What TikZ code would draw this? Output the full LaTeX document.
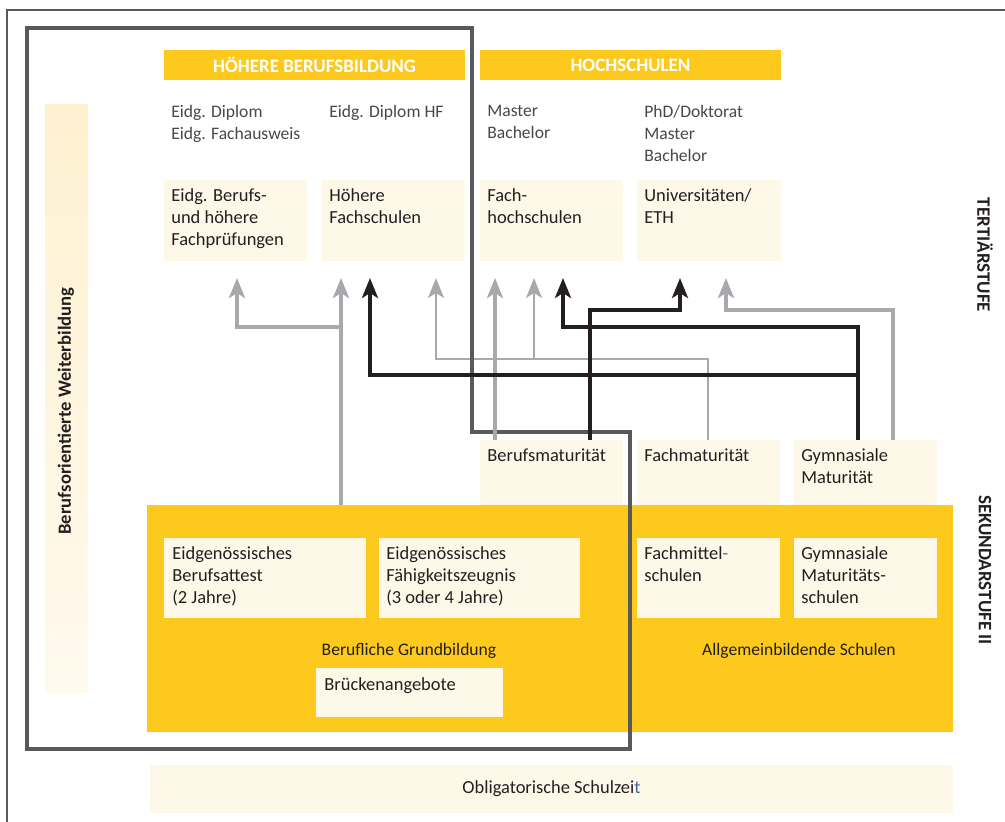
\documentclass[tikz,border=0pt]{standalone}
\usepackage{fontspec}
\setmainfont{Carlito}
\usetikzlibrary{arrows.meta}

\definecolor{sbyellow}{RGB}{253,201,28}
\definecolor{sbcream}{RGB}{254,248,232}
\definecolor{sbbartop}{RGB}{254,241,208}
\definecolor{sbbarbot}{RGB}{255,249,238}
\definecolor{sbgrey}{RGB}{167,169,172}
\definecolor{sbblack}{RGB}{35,31,32}
\definecolor{sbframe}{RGB}{88,89,91}
\definecolor{sbtext}{RGB}{35,31,32}
\definecolor{sblabel}{RGB}{72,72,74}
\definecolor{sbblue}{RGB}{70,100,180}

\tikzset{
  body/.style={anchor=north west, inner sep=0pt, align=left, text=sbtext,
    font=\fontsize{10.5}{12.6}\selectfont},
  degree/.style={body, text=sblabel, font=\fontsize{10}{12.6}\selectfont},
  head/.style={inner sep=0pt, text=white, font=\fontsize{10.8}{12}\selectfont\bfseries},
  stage/.style={inner sep=0pt, text=sbtext, font=\fontsize{10.8}{12}\selectfont\bfseries},
  caption/.style={inner sep=0pt, text=sbtext, font=\fontsize{10}{12}\selectfont},
  greyline/.style={draw=sbgrey, line width=2.3pt, -{Stealth[length=4mm, width=3.2mm, inset=1mm]}},
  greythin/.style={greyline, line width=1.1pt},
  blackline/.style={draw=sbblack, line width=2.3pt, -{Stealth[length=4mm, width=3.2mm, inset=1mm]}},
}

\def\sbbase{
    % \draw[help lines] (0, 0) grid[step=50] (1005, 822);
    \path[draw=sbframe, line width=1.1pt] (7, 822) -- (7, 10) -- (1005, 10);
    \shade[top color=sbbartop, bottom color=sbbarbot] (45, 104) rectangle (88, 692);
    \path[fill=sbyellow] (164, 50) rectangle (465, 80) node [midway] (hbb) {};
    \path[fill=sbyellow] (480, 50) rectangle (781, 80) node [midway] (hs) {};
    \path[fill=sbcream] (164, 180) coordinate (fp) rectangle (307, 261);
    \path[fill=sbcream] (322, 180) coordinate (hf) rectangle (465, 261);
    \path[fill=sbcream] (480, 180) coordinate (fh) rectangle (623, 261);
    \path[fill=sbcream] (637, 180) coordinate (uni) rectangle (781, 261);
    \path[fill=sbcream] (480, 440) coordinate (bm) rectangle (623, 505);
    \path[fill=sbcream] (637, 440) coordinate (fm) rectangle (780, 505);
    \path[fill=sbcream] (794, 440) coordinate (gm) rectangle (937, 505);
    \path[fill=sbyellow] (147, 505) rectangle (953, 732);
    \path[fill=sbcream] (164, 538) coordinate (eba) rectangle (366, 618);
    \path[fill=sbcream] (379, 538) coordinate (efz) rectangle (580, 618);
    \path[fill=sbcream] (637, 538) coordinate (fms) rectangle (780, 618);
    \path[fill=sbcream] (794, 538) coordinate (gms) rectangle (937, 618);
    \path[fill=sbcream] (316, 668) coordinate (bra) rectangle (503, 717);
    \path[fill=sbcream] (150, 765) rectangle (953, 813) node [midway] (obl) {};
  }

\begin{document}
\begin{tikzpicture}[x=0.02cm, y=-0.02cm]
    \useasboundingbox (0, 0) rectangle (1005, 822);
    \sbbase
    \node[head] (hbb-t) at (hbb) {HÖHERE BERUFSBILDUNG};
    \node[head] (hs-t) at (hs) {HOCHSCHULEN};
    \node[degree] (dp-fp) at (171, 105) {Eidg. Diplom\\Eidg. Fachausweis};
    \node[degree] (dp-hf) at (329, 105) {Eidg. Diplom HF};
    \node[degree] (dp-fh) at (487, 105) {Master\\Bachelor};
    \node[degree] (dp-uni) at (644, 105) {PhD/Doktorat\\Master\\Bachelor};
    \node[body] (fp-t) at ([shift={(7, 8)}]fp) {Eidg. Berufs-\\und höhere\\Fachprüfungen};
    \node[body] (hf-t) at ([shift={(7, 8)}]hf) {Höhere\\Fachschulen};
    \node[body] (fh-t) at ([shift={(7, 8)}]fh) {Fach-\\hochschulen};
    \node[body] (uni-t) at ([shift={(7, 8)}]uni) {Universitäten/\\ETH};
    \node[body] (bm-t) at ([shift={(7, 8)}]bm) {Berufsmaturität};
    \node[body] (fm-t) at ([shift={(7, 8)}]fm) {Fachmaturität};
    \node[body] (gm-t) at ([shift={(7, 8)}]gm) {Gymnasiale\\Maturität};
    \node[body] (eba-t) at ([shift={(8, 8)}]eba) {Eidgenössisches\\Berufsattest\\(2 Jahre)};
    \node[body] (efz-t) at ([shift={(7, 8)}]efz) {Eidgenössisches\\Fähigkeitszeugnis\\(3 oder 4 Jahre)};
    \node[body] (fms-t) at ([shift={(7, 8)}]fms) {Fachmittel\textcolor{sbblue}{-}\\schulen};
    \node[body] (gms-t) at ([shift={(7, 8)}]gms) {Gymnasiale\\Maturitäts-\\schulen};
    \node[body] (bra-t) at ([shift={(8, 9)}]bra) {Brückenangebote};
    \node[caption] (gb-t) at (409, 651) {Berufliche Grundbildung};
    \node[caption] (ab-t) at (799, 651) {Allgemeinbildende Schulen};
    \node[caption, font=\fontsize{10.5}{12}\selectfont] (obl-t) at (obl) {Obligatorische Schulzei\textcolor{sbblue}{t}};
    \node[stage, font=\fontsize{10.6}{12}\selectfont\bfseries, rotate=90] (wb-t) at (66, 411) {Berufsorientierte Weiterbildung};
    \node[stage, rotate=-90] (ter-t) at (985, 255) {TERTIÄRSTUFE};
    \node[stage, rotate=-90] (sek-t) at (985, 570) {SEKUNDARSTUFE II};
    % arrow ends below the tertiary boxes
    \coordinate (in-fp) at (237, 278);
    \coordinate (in-hf1) at (341, 278);
    \coordinate (in-hf2) at (370, 278);
    \coordinate (in-hf3) at (436, 278);
    \coordinate (in-fh1) at (495, 278);
    \coordinate (in-fh2) at (534, 278);
    \coordinate (in-fh3) at (563, 278);
    \coordinate (in-uni1) at (680, 278);
    \coordinate (in-uni2) at (726, 278);
    % starts on the secondary boxes
    \coordinate (out-gb) at (341, 505);
    \coordinate (out-bm1) at (495, 440);
    \coordinate (out-bm2) at (590, 440);
    \coordinate (out-fm) at (708, 440);
    \coordinate (out-gm1) at (858, 440);
    \coordinate (out-gm2) at (893, 440);
    \coordinate (gb-split) at (341, 327);
    \coordinate (fm-split) at (534, 359);
    \coordinate (gm-split) at (858, 375);
    % thin line from the Fachmaturitaet
    \path[greythin] (out-fm) -- (708, 359) -| (in-hf3);
    \path[greythin] (fm-split) -- (in-fh2);
    % frame round the vocational path
    \path[draw=sbframe, line width=2.4pt] (27, 28) -- (472, 28) -- (472, 432) -- (630, 432)
      -- (630, 749) -- (27, 749) -- cycle;
    % grey lines
    \path[greyline] (out-gb) -- (in-hf1);
    \path[greyline] (gb-split) -| (in-fp);
    \path[greyline] (out-bm1) -- (in-fh1);
    \path[greyline] (out-gm2) -- (893, 310) -| (in-uni2);
    % black lines
    \path[blackline] (out-bm2) -- (590, 310) -| (in-uni1);
    \path[blackline] (out-gm1) -- (858, 327) -| (in-fh3);
    \path[blackline] (gm-split) -| (in-hf2);
  \end{tikzpicture}
\end{document}
